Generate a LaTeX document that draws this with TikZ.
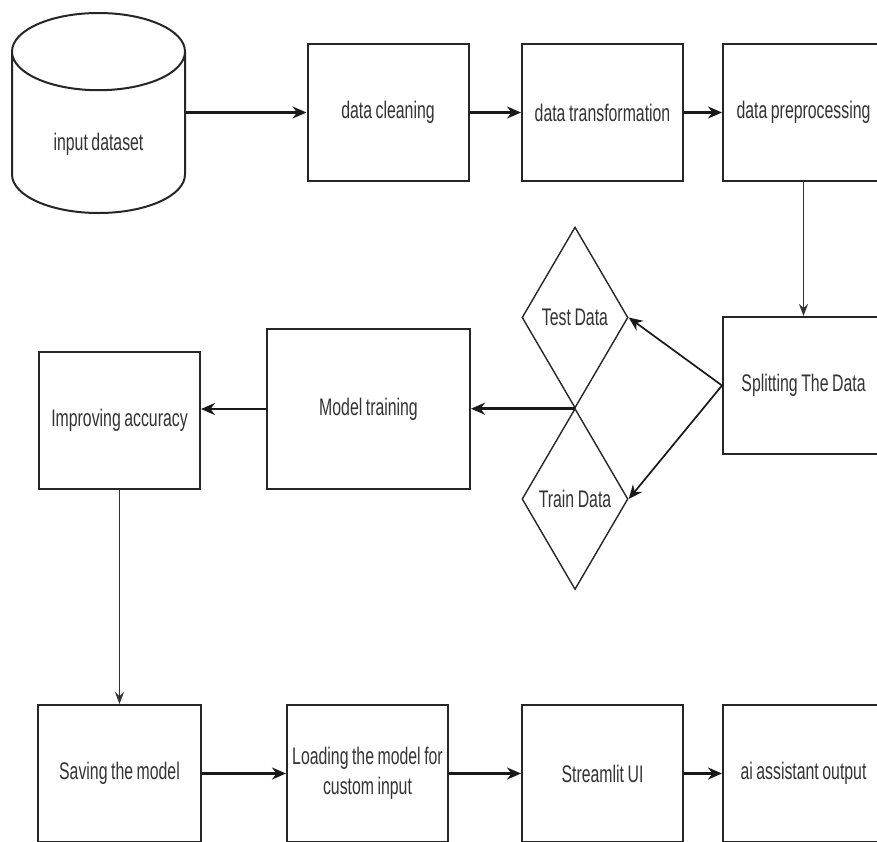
\documentclass[tikz,border=0pt]{standalone}
\usepackage{fontspec}
\setmainfont{Liberation Sans}[FakeStretch=0.66,WordSpace=0.8]
\usetikzlibrary{arrows.meta}
\usetikzlibrary{shapes.geometric}

\tikzset{
    stagebox/.style={draw=black!85, line width=2pt, minimum width=161pt, minimum height=137pt,
        inner sep=1pt, align=center, text=black!80},
    choice/.style={draw=black!85, diamond, line width=1.4pt, minimum width=106pt, minimum height=181pt,
        inner sep=0pt, text=black!80},
    flow/.style={draw=black!90, line width=2.5pt, -{Stealth[length=14pt,width=12pt]}},
    drop/.style={draw=black!80, line width=1.4pt, -{Stealth[length=12pt,width=9pt]}},
}

\begin{document}
\begin{tikzpicture}[x=1pt,y=-1pt,font=\fontsize{24}{30}\selectfont]
                \clip (0,0) rectangle (877,841);
                \fill[white] (0,0) rectangle (877,841);

                % first row
                \node[draw=black!85, line width=2pt, cylinder, shape border rotate=90, aspect=0.8,
                    minimum width=173pt, minimum height=200pt, anchor=shape center, text=black!80]
                    (dataset) at (98.5,113) {\raisebox{-12pt}[0pt][0pt]{input dataset}};
                \node[stagebox] (clean) at (388,112.5) {data cleaning};
                \node[stagebox] (transform) at (602.5,112.5) {data transformation};
                \node[stagebox] (prep) at (803.5,112.5) {data preprocessing};

                \draw[flow] (dataset.east |- clean.west) -- (clean.west);
                \draw[flow] (clean) -- (transform);
                \draw[flow] (transform) -- (prep);

                % splitting
                \node[stagebox] (split) at (803.5,385.5) {Splitting The Data};
                \node[choice] (test) at (575,317.5) {Test Data};
                \node[choice] (train) at (575,499) {Train Data};

                \draw[drop] (prep.south) -- (split.north);
                \draw[flow, line width=1.7pt] (split.west) -- (test.east);
                \draw[flow, line width=1.7pt] (split.west) -- (train.east);

                % training
                \node[stagebox, minimum width=203pt, minimum height=160pt] (mtrain) at (368.5,409) {Model training};
                \node[stagebox] (improve) at (119.5,420.5) {Improving accuracy};

                \draw[flow] (test.south) -- (test.south -| mtrain.east);
                \draw[flow] (mtrain.west) -- (mtrain.west -| improve.east);

                % last row
                \node[stagebox, minimum width=163pt] (save) at (119.5,773.5) {Saving the model};
                \node[stagebox] (load) at (367.5,773.5) {Loading the model for\\custom input};
                \node[stagebox] (ui) at (602.5,773.5) {Streamlit UI};
                \node[stagebox] (output) at (803.5,773.5) {ai assistant output};

                \draw[drop] (improve.south) -- (save.north);
                \draw[flow] (save) -- (load);
                \draw[flow] (load) -- (ui);
                \draw[flow] (ui) -- (output);
\end{tikzpicture}
\end{document}
